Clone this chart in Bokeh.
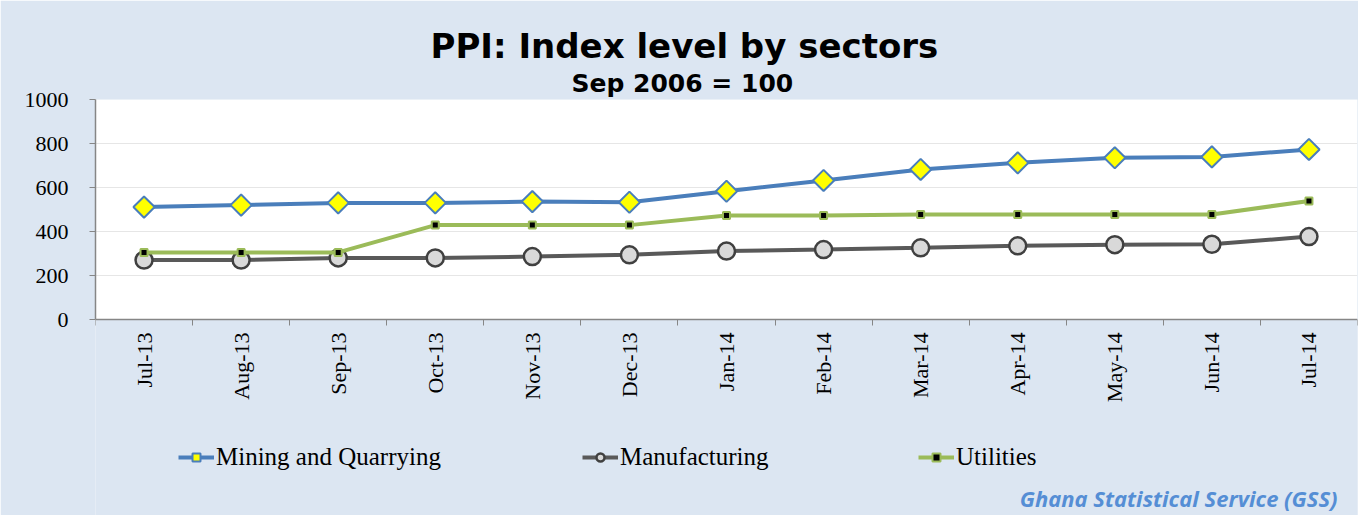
import math
from bokeh.plotting import figure
from bokeh.models import FixedTicker, Legend, LegendItem, Title, Label, Range1d, BoxAnnotation
from bokeh.embed import file_html
from bokeh.resources import INLINE

months = ["Jul-13", "Aug-13", "Sep-13", "Oct-13", "Nov-13", "Dec-13", "Jan-14",
          "Feb-14", "Mar-14", "Apr-14", "May-14", "Jun-14", "Jul-14"]
mining = [511, 520, 530, 530, 536, 533, 583, 632, 682, 712, 735, 739, 773]
manufacturing = [270, 270, 280, 280, 286, 294, 311, 318, 326, 335, 340, 342, 377]
utilities = [305, 305, 305, 429, 429, 429, 473, 473, 477, 477, 477, 477, 539]
y_ticks = [0, 200, 400, 600, 800, 1000]

x = list(range(len(months)))

BG = "#dce6f2"
AXIS = "#868686"
SERIF = "Liberation Serif"

# frame spans the whole lower part of the chart; value axis occupies 0..1000 (220 px)
PX_PER_UNIT = 220 / 1000
Y_BOTTOM = -196 / PX_PER_UNIT

p = figure(width=1358, height=515, x_range=Range1d(-0.5, len(months) - 0.5),
           y_range=Range1d(Y_BOTTOM, 1000), output_backend="svg", toolbar_location=None,
           min_border_left=95, min_border_right=1, min_border_top=99, min_border_bottom=0,
           background_fill_color=BG, border_fill_color=BG, outline_line_color=None)

# white plotting area
p.add_layout(BoxAnnotation(bottom=0, top=1000, fill_color="white", fill_alpha=1,
                           line_color=None, level="image"))

# titles (p.title is the outer one, the added one sits next to the frame)
p.title.text = "PPI:  Index level by sectors"
p.title.align = "left"
p.title.offset = 335
p.title.text_font = "DejaVu Sans"
p.title.text_font_style = "bold"
p.title.text_font_size = "34px"
p.title.text_color = "black"
p.title.standoff = 0
p.add_layout(Title(text="Sep 2006 = 100", align="left", offset=476,
                   text_font="DejaVu Sans", text_font_style="bold",
                   text_font_size="25px", text_color="black", standoff=3), "above")

# y axis
p.yaxis.ticker = FixedTicker(ticks=y_ticks)
p.yaxis.bounds = (0, 1000)
p.yaxis.axis_line_color = AXIS
p.yaxis.axis_line_width = 1.5
p.yaxis.major_tick_line_color = AXIS
p.yaxis.major_tick_out = 6
p.yaxis.major_tick_in = 0
p.yaxis.minor_tick_out = 0
p.yaxis.minor_tick_in = 0
p.yaxis.major_label_text_font = SERIF
p.yaxis.major_label_text_font_size = "22px"
p.yaxis.major_label_text_color = "black"
p.yaxis.major_label_standoff = 21

# x axis drawn at value 0
p.xaxis.fixed_location = 0
p.xaxis.ticker = FixedTicker(ticks=x, minor_ticks=[i - 0.5 for i in range(len(months) + 1)])
p.xaxis.major_label_overrides = {i: m for i, m in zip(x, months)}
p.xaxis.axis_line_color = AXIS
p.xaxis.axis_line_width = 1.5
p.xaxis.major_tick_out = 0
p.xaxis.major_tick_in = 0
p.xaxis.minor_tick_out = 6
p.xaxis.minor_tick_in = 0
p.xaxis.minor_tick_line_color = AXIS
p.xaxis.major_label_orientation = math.pi / 2
p.xaxis.major_label_text_font = SERIF
p.xaxis.major_label_text_font_size = "22px"
p.xaxis.major_label_text_color = "black"
p.xaxis.major_label_standoff = 7

p.ygrid.grid_line_color = "#e6e6e6"
p.ygrid.bounds = (0, 1000)
p.xgrid.grid_line_color = None

# series
l1 = p.line(x, mining, line_color="#4a7ebb", line_width=4)
m1 = p.scatter(x, mining, marker="square", angle=math.pi / 4, size=15,
               fill_color="#ffff00", line_color="#4a7ebb", line_width=2)
l2 = p.line(x, manufacturing, line_color="#595959", line_width=4)
m2 = p.scatter(x, manufacturing, marker="circle", size=17,
               fill_color="#d9d9d9", line_color="#404040", line_width=2.5)
l3 = p.line(x, utilities, line_color="#9bbb59", line_width=4)
m3 = p.scatter(x, utilities, marker="square", size=7,
               fill_color="black", line_color="#9bbb59", line_width=2)

def mk_legend(label, rends, loc):
    lg = Legend(items=[LegendItem(label=label, renderers=rends)], location=loc,
                orientation="horizontal", glyph_width=36, glyph_height=20,
                label_text_font=SERIF, label_text_font_size="25px",
                label_text_color="black", label_standoff=2,
                background_fill_alpha=0, border_line_color=None,
                padding=0, margin=0, spacing=0)
    p.add_layout(lg)

mk_legend("Mining and Quarrying", [l1, m1], (83, 44))
mk_legend("Manufacturing", [l2, m2], (487, 44))
mk_legend("Utilities", [l3, m3], (823, 44))

p.add_layout(Label(x=len(months) - 0.5, y=-178 / PX_PER_UNIT, x_offset=-20,
                   text="Ghana Statistical Service (GSS)", text_align="right",
                   text_baseline="middle", text_font="Open Sans",
                   text_font_style="bold italic", text_font_size="22px",
                   text_color="#558ed5"))

open("out.html", "w").write(file_html(p, INLINE))
